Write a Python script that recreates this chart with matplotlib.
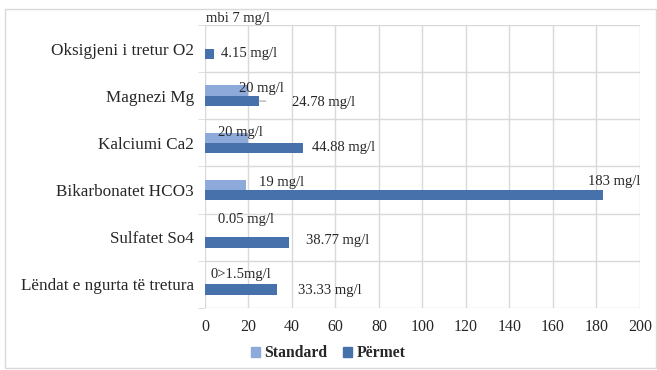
import matplotlib
matplotlib.use("Agg")
import matplotlib.pyplot as plt
import matplotlib.patches as mpatches
import numpy as np

# ---------------------------------------------------------------------------
# Data (top to bottom as shown in the chart)
# ---------------------------------------------------------------------------
categories = [
    "Oksigjeni i tretur O2",
    "Magnezi Mg",
    "Kalciumi Ca2",
    "Bikarbonatet HCO3",
    "Sulfatet So4",
    "Lëndat e ngurta të tretura",
]
standard = [0, 20, 20, 19, 0.05, 0]
permet = [4.15, 24.78, 44.88, 183, 38.77, 33.33]

standard_labels = ["mbi 7 mg/l", "20 mg/l", "20 mg/l", "19 mg/l", "0.05 mg/l", "0>1.5mg/l"]
permet_labels = ["4.15 mg/l", "24.78 mg/l", "44.88 mg/l", "183 mg/l", "38.77 mg/l", "33.33 mg/l"]

# hand-placed label offsets (points), mimicking the dragged Excel labels
std_offsets = [(1, 18), (-7, 1.5), (-22, 4), (9, 2), (9, 9), (4, 3)]
per_offsets = [(5, 0), (24, -1), (7, 0.5), (-11, 10), (12, 1.5), (15, -0.5)]

LIGHT = "#8eaadb"
DARK = "#4671aa"
GRID = "#d9d9d9"
TEXT = "#262626"
FONT = "Liberation Serif"

fig = plt.figure(figsize=(6.57, 3.70), dpi=100)
fig.patches.append(mpatches.Rectangle((0.008, 0.005), 0.99, 0.972, transform=fig.transFigure,
                                      fill=False, edgecolor=GRID, linewidth=1))
ax = fig.add_axes([0.312, 0.168, 0.662, 0.764])

n = len(categories)
y = np.arange(n)[::-1].astype(float)
h = 0.22

ax.barh(y + h / 2, standard, height=h, color=LIGHT, zorder=3)
ax.barh(y - h / 2, permet, height=h, color=DARK, zorder=3)

for i in range(n):
    ax.annotate(standard_labels[i], (standard[i], y[i] + h / 2),
                xytext=std_offsets[i], textcoords="offset points",
                ha="left", va="center", fontsize=10.5, family=FONT, color=TEXT)
    # short leader line on the one label Excel dragged far from its bar
    arrow = dict(arrowstyle="-", color="#a6a6a6", lw=0.8, shrinkA=17, shrinkB=0) if i == 1 else None
    ax.annotate(permet_labels[i], (permet[i], y[i] - h / 2),
                xytext=per_offsets[i], textcoords="offset points",
                ha="left", va="center", fontsize=10.5, family=FONT, color=TEXT,
                arrowprops=arrow)

ax.set_xlim(0, 200)
ax.set_ylim(-0.5, n - 0.5)
ax.set_xticks(np.arange(0, 201, 20))
ax.set_yticks(y)
ax.set_yticklabels(categories, family=FONT, fontsize=12.3, color=TEXT)
ax.set_yticks(np.arange(-0.5, n, 1), minor=True)
ax.tick_params(axis="y", which="major", length=0, pad=8)
ax.tick_params(axis="y", which="minor", length=5, color=GRID)
ax.tick_params(axis="x", length=0, pad=8, labelsize=11.5, labelcolor=TEXT)
for lab in ax.get_xticklabels():
    lab.set_family(FONT)

ax.xaxis.grid(True, color=GRID, linewidth=1, zorder=0)
ax.yaxis.grid(True, which="minor", color=GRID, linewidth=1, zorder=0)
for s in ax.spines.values():
    s.set_visible(False)

handles = [mpatches.Patch(color=LIGHT, label="Standard"),
           mpatches.Patch(color=DARK, label="Përmet")]
fig.legend(handles=handles, loc="center", bbox_to_anchor=(0.5, 0.045), ncol=2,
           frameon=False, handlelength=0.55, handleheight=0.55, handletextpad=0.3,
           columnspacing=1.0, labelcolor=TEXT,
           prop={"family": FONT, "weight": "bold", "size": 11.3})

fig.savefig("out.png", dpi=100)
